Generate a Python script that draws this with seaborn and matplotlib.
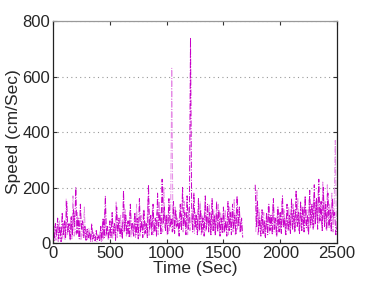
import numpy as np
import pandas as pd
import seaborn as sns
import matplotlib
matplotlib.use("Agg")
import matplotlib.pyplot as plt

nan = np.nan
# Series A (dark magenta), t = 0..2500 step 10
time_a = list(range(0, 2510, 10))
speed_a = [
    40, 10, 70, 25, 90, 15, 60, 5, 110, 30,
    80, 20, 150, 40, 70, 10, 95, 30, 120, 60,
    200, 35, 90, 15, 140, 50, 80, 20, 60, 10,
    50, 20, 40, 5, 70, 15, 30, 8, 45, 12,
    25, 5, 60, 10, 90, 20, 170, 30, 60, 15,
    80, 20, 110, 35, 70, 10, 130, 40, 90, 25,
    60, 15, 190, 45, 100, 30, 80, 20, 140, 50,
    70, 25, 110, 30, 90, 15, 160, 40, 80, 20,
    120, 35, 70, 20, 210, 50, 100, 30, 140, 40,
    90, 25, 180, 60, 110, 30, 230, 70, 130, 45,
    100, 30, 160, 60, 90, 40, 150, 35, 120, 60,
    80, 25, 140, 45, 200, 60, 110, 30, 170, 50,
    90, 740, 130, 40, 180, 55, 100, 30, 160, 45,
    120, 35, 90, 25, 170, 50, 140, 40, 110, 30,
    160, 45, 100, 30, 150, 40, 120, 25, 90, 35,
    130, 40, 80, 25, 150, 45, 110, 30, 140, 50,
    100, 30, 170, 60, 130, 40, 90, 20, nan, nan,
    nan, nan, nan, nan, nan, nan, nan, nan, 210, 60,
    150, 40, 90, 25, 120, 35, 80, 20, 110, 30,
    140, 45, 100, 30, 160, 50, 90, 25, 130, 40,
    110, 35, 170, 55, 90, 30, 140, 45, 100, 35,
    160, 50, 120, 40, 190, 60, 110, 35, 150, 45,
    130, 40, 170, 55, 100, 30, 190, 65, 140, 50,
    210, 70, 160, 50, 230, 80, 150, 45, 200, 60,
    140, 45, 180, 55, 120, 40, 160, 90, 110, 30,
    60,
]
# Series B (light magenta), t = 5..2495 step 10
time_b = list(range(5, 2505, 10))
speed_b = [
    20, 60, 10, 45, 5, 80, 25, 50, 15, 70,
    10, 160, 30, 60, 20, 90, 15, 170, 25, 50,
    30, 110, 20, 70, 10, 60, 25, 130, 15, 40,
    10, 55, 20, 35, 5, 40, 10, 25, 5, 30,
    15, 45, 5, 70, 15, 120, 25, 60, 10, 40,
    25, 90, 15, 60, 30, 150, 20, 70, 35, 100,
    20, 80, 40, 120, 25, 70, 35, 110, 20, 60,
    30, 90, 20, 140, 35, 70, 25, 100, 45, 120,
    30, 80, 40, 160, 25, 90, 50, 120, 30, 70,
    45, 110, 30, 150, 60, 90, 40, 200, 55, 100,
    30, 120, 45, 90, 630, 70, 40, 130, 55, 90,
    35, 120, 60, 100, 40, 150, 55, 90, 30, 130,
    45, 100, 60, 140, 35, 110, 50, 90, 40, 150,
    30, 100, 55, 130, 40, 90, 60, 140, 35, 110,
    45, 120, 30, 100, 55, 140, 40, 110, 60, 90,
    35, 120, 45, 100, 30, 130, 55, 110, 40, 160,
    30, 120, 50, 100, 40, 80, 30, nan, nan, nan,
    nan, nan, nan, nan, nan, nan, nan, nan, 40, 190,
    30, 120, 50, 90, 35, 110, 25, 80, 45, 130,
    35, 100, 55, 140, 40, 90, 30, 120, 50, 110,
    40, 150, 60, 120, 35, 100, 55, 130, 45, 110,
    60, 140, 40, 120, 70, 160, 45, 110, 60, 130,
    50, 150, 70, 120, 45, 160, 55, 140, 80, 170,
    60, 150, 90, 190, 70, 140, 60, 220, 85, 150,
    50, 210, 70, 140, 60, 180, 40, 130, 370, 60,
]


def make_df(t, v):
    d = pd.DataFrame({"t": t, "v": v})
    d["seg"] = d["v"].isna().cumsum()
    return d.dropna()


df_a = make_df(time_a, speed_a)
df_b = make_df(time_b, speed_b)

sns.set_style("white")
plt.rcParams['font.family'] = ['Liberation Sans', 'DejaVu Sans']

fig = plt.figure(figsize=(3.74, 2.81), dpi=100)
ax = fig.add_axes([0.142, 0.135, 0.759, 0.79])

sns.lineplot(data=df_b, x="t", y="v", units="seg", ax=ax, color="#E58AE5",
             linestyle="-.", linewidth=0.7, estimator=None, sort=False)
sns.lineplot(data=df_a, x="t", y="v", units="seg", ax=ax, color="#C800C8",
             linestyle="-.", linewidth=0.7, estimator=None, sort=False)

ax.set_xlim(0, 2500)
ax.set_ylim(0, 800)
ax.set_xticks([0, 500, 1000, 1500, 2000, 2500])
ax.set_yticks([0, 200, 400, 600, 800])
ax.yaxis.grid(True, linestyle=(0, (1, 3)), color="#999999", linewidth=0.8)
ax.xaxis.grid(False)
ax.set_xlabel("Time (Sec)", fontsize=12.5, labelpad=0)
ax.set_ylabel("Speed (cm/Sec)", fontsize=12.5, labelpad=1)
ax.tick_params(axis="both", which="both", direction="in", length=3,
               labelsize=12, top=True, right=True, bottom=True, left=True,
               pad=2, color="#333333")
for s in ["left", "bottom", "right"]:
    ax.spines[s].set_color("#222222")
    ax.spines[s].set_linewidth(0.9)
ax.spines["top"].set_color("#999999")
ax.spines["top"].set_linewidth(0.9)

fig.savefig("out.png", dpi=100)
